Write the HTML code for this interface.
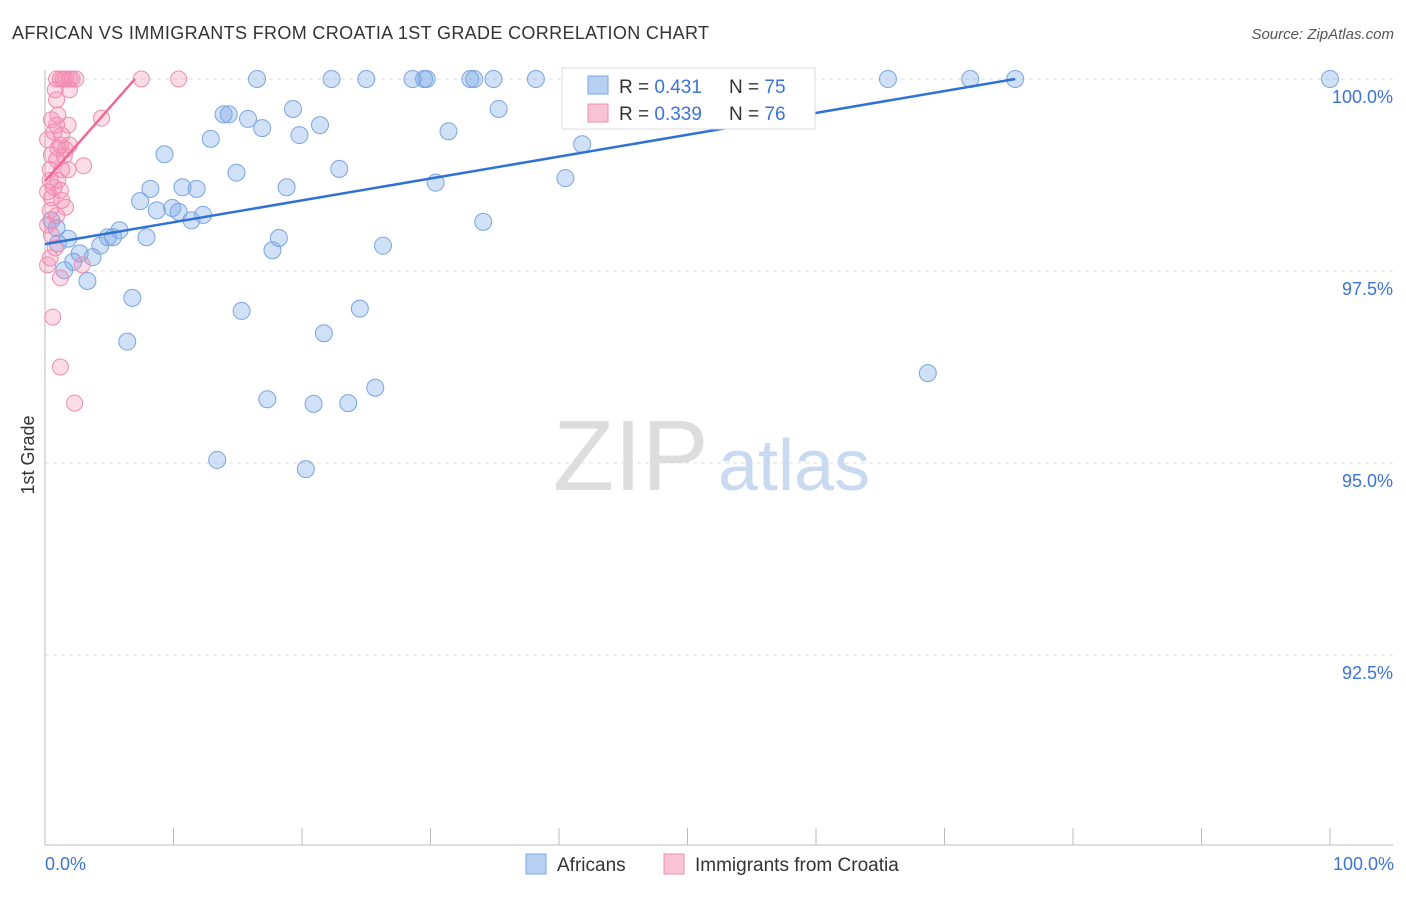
<!DOCTYPE html>
<html><head><meta charset="utf-8"><style>
body{margin:0;background:#fff;font-family:"Liberation Sans",sans-serif;}
svg text{font-family:"Liberation Sans",sans-serif;}
</style></head><body>
<svg id="chart" width="1406" height="892">
<text x="12" y="39" font-size="18" fill="#333" textLength="697">AFRICAN VS IMMIGRANTS FROM CROATIA 1ST GRADE CORRELATION CHART</text>
<text x="1394" y="39" font-size="15" fill="#555" font-style="italic" text-anchor="end">Source: ZipAtlas.com</text>
<text x="34" y="455" font-size="18" fill="#333" transform="rotate(-90 34 455)" text-anchor="middle">1st Grade</text>
<g id="grid"></g>
<text x="553" y="490" font-size="100" fill="#ddd" font-family="Liberation Serif">ZIP</text>
<text x="718" y="490" font-size="72" fill="#c8d9f0">atlas</text>
<g id="points"></g>
<g id="lines"></g>
<rect x="562" y="68" width="253" height="61" fill="#fff" stroke="#ddd"/>
<rect x="588" y="76" width="20" height="18" fill="#b8d1f3" stroke="#7aa5e0"/>
<rect x="588" y="104" width="20" height="18" fill="#f8c4d5" stroke="#f08cb0"/>
<text x="619" y="93" font-size="19" fill="#333">R = <tspan fill="#3b73d9">0.431</tspan></text>
<text x="729" y="93" font-size="19" fill="#333">N = <tspan fill="#3b73d9">75</tspan></text>
<text x="619" y="120" font-size="19" fill="#333">R = <tspan fill="#3b73d9">0.339</tspan></text>
<text x="729" y="120" font-size="19" fill="#333">N = <tspan fill="#3b73d9">76</tspan></text>
<text x="45" y="870" font-size="18" fill="#3b73d9">0.0%</text>
<text x="1394" y="870" font-size="18" fill="#3b73d9" text-anchor="end">100.0%</text>
<rect x="526" y="854" width="20" height="20" fill="#b8d1f3" stroke="#7aa5e0"/>
<text x="557" y="871" font-size="19" fill="#333">Africans</text>
<rect x="664" y="854" width="20" height="20" fill="#f8c4d5" stroke="#f08cb0"/>
<text x="695" y="871" font-size="19" fill="#333">Immigrants from Croatia</text>
</svg>
<script>
const yTicks=[100,97.5,95,92.5];
const yTickLabels=["100.0%","97.5%","95.0%","92.5%"];
const xTicks=[0,10,20,30,40,50,60,70,80,90,100];
const africansX=[16.5,22.3,25.0,28.6,29.5,29.7,33.1,33.4,34.9,38.2,42.4,52.3,59.0,65.6,72.0,75.5,100,13.9,14.3,15.8,19.3,16.9,21.4,19.8,12.9,35.3,31.4,41.8,9.3,14.9,22.9,8.2,10.7,11.8,18.8,30.4,40.5,7.4,8.7,9.9,10.4,11.4,12.3,34.1,0.5,0.9,5.8,4.9,5.3,7.9,1.8,1.0,18.2,4.3,2.7,17.7,26.3,3.7,2.2,1.5,3.3,6.8,15.3,24.5,21.7,6.4,68.7,25.7,17.3,20.9,23.6,13.4,20.3];
const africansY=[100,100,100,100,100,100,100,100,100,100,100,100,100,100,100,100,100,99.54,99.54,99.48,99.61,99.36,99.40,99.27,99.22,99.61,99.32,99.15,99.02,98.78,98.83,98.57,98.59,98.57,98.59,98.65,98.71,98.41,98.29,98.32,98.27,98.16,98.23,98.14,98.16,98.06,98.03,97.94,97.94,97.94,97.92,97.86,97.93,97.83,97.73,97.77,97.83,97.68,97.62,97.51,97.37,97.15,96.98,97.01,96.69,96.58,96.17,95.98,95.83,95.77,95.78,95.04,94.92];
const croatiaX=[0.9,1.2,1.4,1.6,1.9,2.1,2.4,7.5,10.4,0.8,1.9,1.0,4.4,0.9,1.8,0.7,1.3,0.2,1.0,1.6,0.5,1.5,3.0,0.9,0.4,1.3,1.8,0.7,1.2,0.2,0.5,1.3,1.6,0.4,0.9,0.2,0.5,0.8,0.4,0.2,2.9,1.2,0.6,1.2,2.3,0.9,0.5,1.2,1.9,0.4,1.0];
const croatiaY=[100,100,100,100,100,100,100,100,100,99.86,99.86,99.53,99.49,99.40,99.40,99.31,99.27,99.21,99.10,99.08,99.01,99.00,98.87,98.95,98.82,98.82,98.82,98.59,98.55,98.53,98.45,98.42,98.33,98.29,98.22,98.10,97.97,97.80,97.67,97.58,97.58,97.41,96.90,96.25,95.78,99.73,99.47,99.14,99.14,98.68,98.68];
const africansTrend=[[0,97.85],[75.5,100]];
const croatiaTrend=[[0,98.67],[7,100]];
const NS="http://www.w3.org/2000/svg";
const sx=v=>45+v*12.85;
const sy=v=>79+(100-v)*76.8;
function mk(tag,attrs,parent){const e=document.createElementNS(NS,tag);for(const k in attrs)e.setAttribute(k,attrs[k]);document.getElementById(parent).appendChild(e);return e;}
yTicks.forEach((t,i)=>{
  const l=mk('line',{x1:45,x2:1393,y1:sy(t),y2:sy(t),stroke:'#ddd','stroke-dasharray':'4 4'},'grid');
  
  
  const tx=mk('text',{x:1393,y:sy(t)+24,'font-size':18,fill:'#3b73d9','text-anchor':'end'},'grid');
  tx.textContent=yTickLabels[i];
  
  
});
xTicks.forEach(t=>{
  const l=mk('line',{x1:sx(t),x2:sx(t),y1:828,y2:845,stroke:'#bbb'},'grid');
  
  
});
const ax=mk('line',{x1:45,x2:1393,y1:845,y2:845,stroke:'#bbb'},'grid');


const ay=mk('line',{x1:45,x2:45,y1:70,y2:845,stroke:'#bbb'},'grid');


africansX.forEach((x,i)=>{
  const c=mk('circle',{cx:sx(x),cy:sy(africansY[i]),r:8.5,fill:'rgba(120,165,230,0.35)',stroke:'#7aa5e0','stroke-width':1},'points');
  
  
});
croatiaX.forEach((x,i)=>{
  const c=mk('circle',{cx:sx(x),cy:sy(croatiaY[i]),r:8,fill:'rgba(245,140,175,0.3)',stroke:'#f08cb0','stroke-width':1},'points');
  
  
});
const t1=mk('line',{x1:sx(africansTrend[0][0]),y1:sy(africansTrend[0][1]),x2:sx(africansTrend[1][0]),y2:sy(africansTrend[1][1]),stroke:'#2f72d6','stroke-width':2.5},'lines');


const t2=mk('line',{x1:sx(croatiaTrend[0][0]),y1:sy(croatiaTrend[0][1]),x2:sx(croatiaTrend[1][0]),y2:sy(croatiaTrend[1][1]),stroke:'#ec6a95','stroke-width':2.5},'lines');


</script>
</body></html>
